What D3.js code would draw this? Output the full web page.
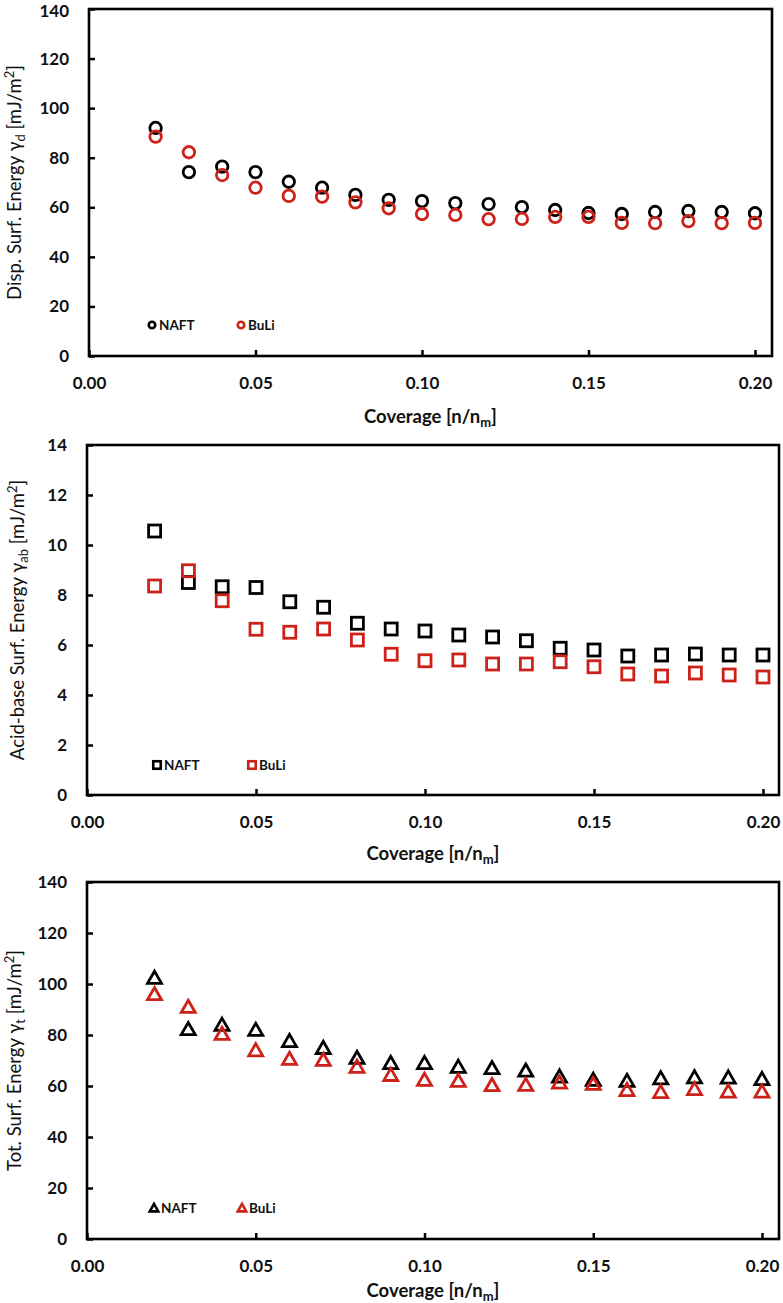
<!DOCTYPE html>
<html><head><meta charset="utf-8">
<script src="https://cdn.jsdelivr.net/npm/d3@7/dist/d3.min.js"></script>
<style>
body{margin:0;background:#fff;}
svg{display:block;font-family:Lato,"Open Sans",sans-serif;}
</style></head><body>
<svg id="c" width="783" height="1303"></svg>
<script>
const coverage = [0.02,0.03,0.04,0.05,0.06,0.07,0.08,0.09,0.10,0.11,0.12,0.13,0.14,0.15,0.16,0.17,0.18,0.19,0.20];
const dispNAFT = [92,74.2,76.4,74.2,70.3,67.9,65,63,62.5,61.7,61.3,60.1,58.9,57.7,57.3,58.1,58.5,58.1,57.6];
const dispBuLi = [88.5,82.2,73,67.9,64.6,64.3,62,59.6,57.3,56.9,55.2,55.3,56.1,56.1,53.7,53.6,54.4,53.6,53.7];
const abNAFT = [10.56,8.5,8.33,8.3,7.73,7.51,6.87,6.64,6.56,6.4,6.32,6.17,5.87,5.8,5.56,5.6,5.64,5.6,5.6];
const abBuLi = [8.36,8.97,7.77,6.63,6.51,6.64,6.2,5.63,5.37,5.4,5.24,5.24,5.33,5.13,4.84,4.76,4.88,4.8,4.72];
const totNAFT = [102.4,82.3,84,82,77.6,74.9,71,69,69,67.5,67,66,63.7,62.4,62,63,63.4,63.3,62.7];
const totBuLi = [96,91,80.4,74,70.6,70.2,67.5,64.3,62.4,62,60.3,60.4,61.3,60.8,58.4,57.6,58.8,57.8,57.8];
const xTicks = [0,0.05,0.10,0.15,0.20];
const yTicksA = [0,20,40,60,80,100,120,140];
const yTicksB = [0,2,4,6,8,10,12,14];
const seriesNames = ["NAFT","BuLi"];
const colors = ["#000000","#cc2219"];

const svg = d3.select("#c");

const panels = [
  {left:89, x20:755, right:772, top:9, bottom:356, ymax:140, yTicks:yTicksA, data:[dispNAFT,dispBuLi], shape:"circle",
   ytitle:["Disp. Surf. Energy γ","d"], ytx:21, xtb:423, leg:[63,152], legy:-31},
  {left:87, x20:763, right:779, top:445, bottom:795, ymax:14, yTicks:yTicksB, data:[abNAFT,abBuLi], shape:"square",
   ytitle:["Acid-base Surf. Energy γ","ab"], ytx:24, xtb:860, leg:[70,165], legy:-30},
  {left:87, x20:762, right:779, top:882, bottom:1239, ymax:140, yTicks:yTicksA, data:[totNAFT,totBuLi], shape:"triangle",
   ytitle:["Tot. Surf. Energy γ","t"], ytx:21, xtb:1297, leg:[67,155], legy:-31}
];

function marker(g, shape, cx, cy, size, color, sw){
  if(shape==="circle"){
    g.append("circle").attr("cx",cx).attr("cy",cy).attr("r",size/2)
      .attr("fill","none").attr("stroke",color).attr("stroke-width",sw);
  } else if(shape==="square"){
    g.append("rect").attr("x",cx-size/2).attr("y",cy-size/2).attr("width",size).attr("height",size)
      .attr("fill","none").attr("stroke",color).attr("stroke-width",sw);
  } else {
    const h = size*0.87;
    g.append("path").attr("d",`M${cx},${cy-h*0.55}L${cx+size/2},${cy+h*0.45}L${cx-size/2},${cy+h*0.45}Z`)
      .attr("fill","none").attr("stroke",color).attr("stroke-width",sw).attr("stroke-linejoin","miter");
  }
}

panels.forEach((p,pi)=>{
  const x = d3.scaleLinear().domain([0,0.20]).range([p.left,p.x20]);
  const y = d3.scaleLinear().domain([0,p.ymax]).range([p.bottom,p.top]);
  const g = svg.append("g");

  const xa = d3.axisBottom(x).tickValues(xTicks).tickFormat(d3.format(".2f")).tickSizeInner(-6).tickSizeOuter(0).tickPadding(21);
  const gx = g.append("g").attr("transform",`translate(0,${p.bottom})`).call(xa);
  const ya = d3.axisLeft(y).tickValues(p.yTicks).tickFormat(d3.format("d")).tickSizeInner(-6).tickSizeOuter(0).tickPadding(20);
  const gy = g.append("g").attr("transform",`translate(${p.left},0)`).call(ya);
  [gx,gy].forEach(a=>{
    a.select(".domain").remove();
    a.selectAll(".tick line").attr("stroke","#000").attr("stroke-width",2.5);
    a.selectAll(".tick text").attr("fill","#111").attr("font-size",17).attr("font-weight","bold")
      .attr("font-family","Lato,'Open Sans',sans-serif");
  });
  if(pi===0){
    gy.selectAll(".tick text").filter(d=>d===p.ymax).attr("dy","0.46em");
  }

  g.append("rect").attr("x",p.left).attr("y",p.top).attr("width",p.right-p.left).attr("height",p.bottom-p.top)
    .attr("fill","none").attr("stroke","#000").attr("stroke-width",2.6);

  // data
  p.data.forEach((vals,si)=>{
    const mg = g.append("g");
    vals.forEach((v,i)=>{
      const size = p.shape==="circle"?11.5:(p.shape==="square"?12:14);
      marker(mg,p.shape,x(coverage[i]),y(v),size,colors[si],2.8);
    });
  });

  // legend
  seriesNames.forEach((n,si)=>{
    const lx = p.left + p.leg[si], ly = p.bottom + p.legy;
    const lg = g.append("g");
    const size = p.shape==="circle"?6.5:(p.shape==="square"?7.5:8.5);
    marker(lg,p.shape,lx,ly,size,colors[si],2.6);
    lg.append("text").attr("x",lx+7).attr("y",ly).attr("dy","0.36em")
      .attr("font-size",13.5).attr("font-weight","bold").attr("fill","#111").text(n);
  });

  // x title
  const xt = g.append("text").attr("x",(p.left+p.right)/2).attr("y",p.xtb).attr("text-anchor","middle")
    .attr("font-size",18.5).attr("font-weight","bold").attr("fill","#111");
  xt.append("tspan").text("Coverage [n/n");
  xt.append("tspan").attr("font-size",13).attr("dy",4).text("m");
  xt.append("tspan").attr("dy",-4).text("]");

  // y title
  const yt = g.append("text").attr("transform",`translate(${p.ytx},${(p.top+p.bottom)/2}) rotate(-90)`)
    .attr("text-anchor","middle").attr("font-size",18.5).attr("fill","#111");
  yt.append("tspan").text(p.ytitle[0]);
  yt.append("tspan").attr("font-size",13).attr("dy",4).text(p.ytitle[1]);
  yt.append("tspan").attr("dy",-4).text(" [mJ/m");
  yt.append("tspan").attr("font-size",13).attr("dy",-7).text("2");
  yt.append("tspan").attr("dy",7).text("]");
});
</script>
</body></html>
